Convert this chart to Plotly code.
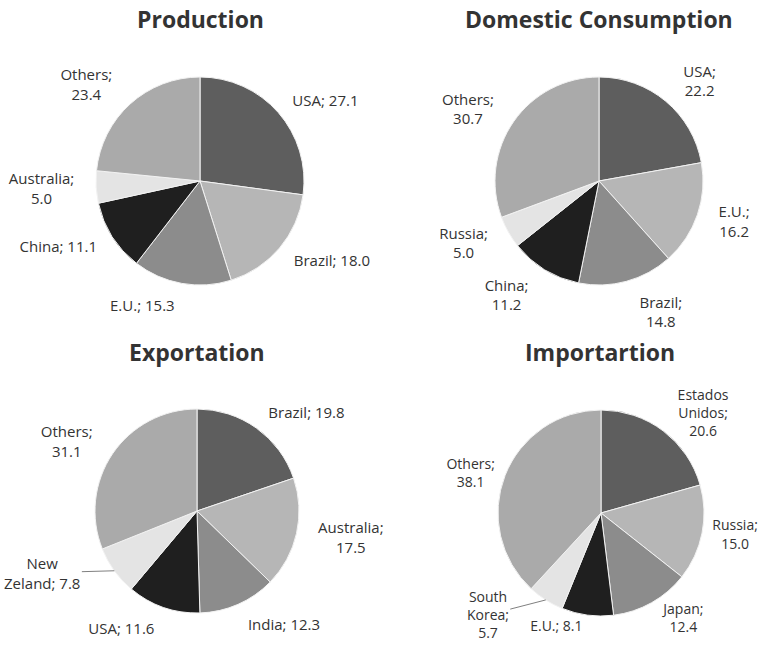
import math
import plotly.graph_objects as go

W, H = 761, 648

# ---- data ----
prod_cats = ["USA", "Brazil", "E.U.", "China", "Australia", "Others"]
prod_vals = [27.1, 18.0, 15.3, 11.1, 5.0, 23.4]
prod_text = ["USA; 27.1", "Brazil; 18.0", "E.U.; 15.3", "China; 11.1", "Australia;<br>5.0", "Others;<br>23.4"]

cons_cats = ["USA", "E.U.", "Brazil", "China", "Russia", "Others"]
cons_vals = [22.2, 16.2, 14.8, 11.2, 5.0, 30.7]
cons_text = ["USA;<br>22.2", "E.U.;<br>16.2", "Brazil;<br>14.8", "China;<br>11.2", "Russia;<br>5.0", "Others;<br>30.7"]

expo_cats = ["Brazil", "Australia", "India", "USA", "New Zeland", "Others"]
expo_vals = [19.8, 17.5, 12.3, 11.6, 7.8, 31.1]
expo_text = ["Brazil; 19.8", "Australia;<br>17.5", "India; 12.3", "USA; 11.6", "New<br>Zeland; 7.8", "Others;<br>31.1"]

impo_cats = ["Estados Unidos", "Russia", "Japan", "E.U.", "South Korea", "Others"]
impo_vals = [20.6, 15.0, 12.4, 8.1, 5.7, 38.1]
impo_text = ["Estados<br>Unidos;<br>20.6", "Russia;<br>15.0", "Japan;<br>12.4", "E.U.; 8.1", "South<br>Korea;<br>5.7", "Others;<br>38.1"]

titles = ["Production", "Domestic Consumption", "Exportation", "Importartion"]

slice_colors = ["#5e5e5e", "#b6b6b6", "#8c8c8c", "#1f1f1f", "#e4e4e4", "#aaaaaa"]

# ---- layout geometry (pixels): centre x, centre y, radius, label gap, label font size,
#      labels drawn with a leader line {category: (text offset x, text offset y)} ----
pies = [
    (prod_cats, prod_vals, prod_text, 200, 181, 104, 12, 15, {}),
    (cons_cats, cons_vals, cons_text, 599, 181, 104, 12, 15, {}),
    (expo_cats, expo_vals, expo_text, 197, 511, 102, 12, 15, {"New Zeland": (-72, 2)}),
    (impo_cats, impo_vals, impo_text, 601, 513, 103, 1, 14, {"South Korea": (-58, 15)}),
]
title_pos = [(200, 19), (599, 19), (197, 352), (600, 352)]


def dom(cx, cy, r):
    return dict(x=[(cx - r) / W, (cx + r) / W], y=[1 - (cy + r) / H, 1 - (cy - r) / H])


fig = go.Figure()
for cats, vals, txt, cx, cy, r, gap, fs, leader in pies:
    font = dict(family="Open Sans", size=fs, color="#333333")
    # visible pie
    fig.add_trace(go.Pie(
        labels=cats, values=vals, textinfo="none",
        sort=False, direction="clockwise", rotation=0,
        marker=dict(colors=slice_colors, line=dict(color="#f2f2f2", width=1)),
        domain=dom(cx, cy, r), showlegend=False, hoverinfo="label+value",
        automargin=False,
    ))
    # transparent, slightly larger pie that carries the outside labels
    main_txt = [("" if c in leader else t) for c, t in zip(cats, txt)]
    fig.add_trace(go.Pie(
        labels=cats, values=vals, text=main_txt,
        textinfo="text", textposition="outside",
        sort=False, direction="clockwise", rotation=0,
        marker=dict(colors=["rgba(0,0,0,0)"] * len(vals), line=dict(width=0)),
        textfont=font, outsidetextfont=font,
        domain=dom(cx, cy, r + gap), showlegend=False, hoverinfo="skip",
        automargin=False,
    ))
    # labels with leader lines: arrow tip at the slice's mid-angle on the rim
    total = sum(vals)
    cum = 0.0
    for c, v, t in zip(cats, vals, txt):
        if c in leader:
            ang = 2 * math.pi * (cum + v / 2) / total
            px = cx + r * math.sin(ang)
            py = cy - r * math.cos(ang)
            ox, oy = leader[c]
            fig.add_annotation(text=t, x=px / W, y=1 - py / H, xref="paper", yref="paper",
                               showarrow=True, arrowhead=0, arrowwidth=1, arrowcolor="#808080",
                               standoff=0, ax=ox, ay=oy, align="center", font=font)
        cum += v

for t, (tx, ty) in zip(titles, title_pos):
    fig.add_annotation(text="<b>" + t + "</b>", x=tx / W, y=1 - ty / H, xref="paper", yref="paper",
                       showarrow=False, xanchor="center", yanchor="middle",
                       font=dict(family="Open Sans", size=23, color="#333333"))

fig.update_layout(width=W, height=H,
                  margin=dict(l=0, r=0, t=0, b=0, pad=0, autoexpand=False),
                  showlegend=False,
                  paper_bgcolor="white", plot_bgcolor="white")
fig.write_html("out.html")
